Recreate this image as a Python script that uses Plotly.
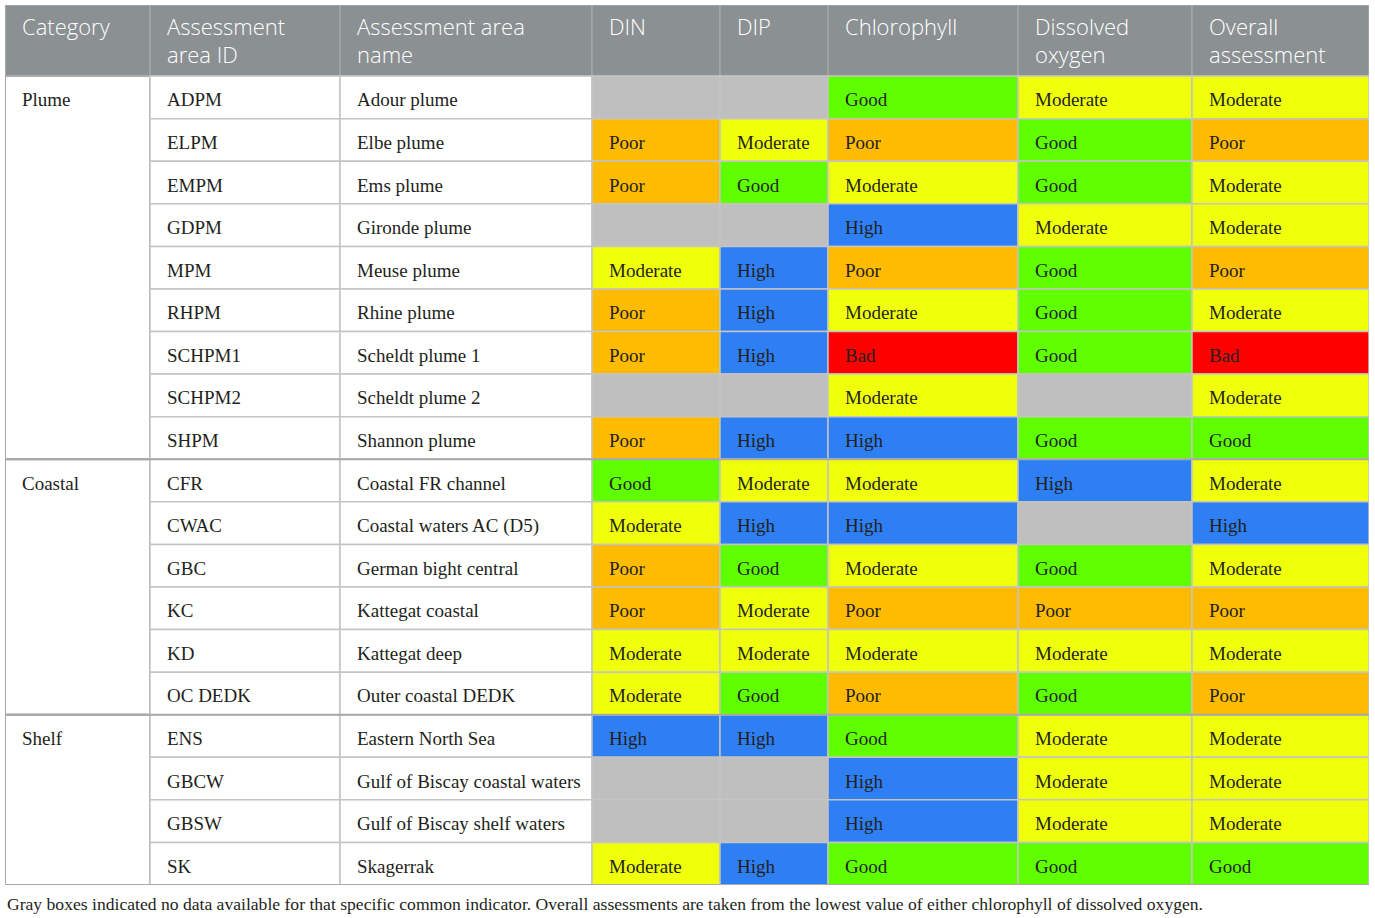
import plotly.graph_objects as go

# table data
headers = ["Category", "Assessment<br>area ID", "Assessment area<br>name", "DIN", "DIP",
           "Chlorophyll", "Dissolved<br>oxygen", "Overall<br>assessment"]
groups = ["Plume", "Coastal", "Shelf"]
group_sizes = [9, 6, 4]
area_ids = ["ADPM", "ELPM", "EMPM", "GDPM", "MPM", "RHPM", "SCHPM1", "SCHPM2", "SHPM",
            "CFR", "CWAC", "GBC", "KC", "KD", "OC DEDK",
            "ENS", "GBCW", "GBSW", "SK"]
area_names = ["Adour plume", "Elbe plume", "Ems plume", "Gironde plume", "Meuse plume",
              "Rhine plume", "Scheldt plume 1", "Scheldt plume 2", "Shannon plume",
              "Coastal FR channel", "Coastal waters AC (D5)", "German bight central",
              "Kattegat coastal", "Kattegat deep", "Outer coastal DEDK",
              "Eastern North Sea", "Gulf of Biscay coastal waters",
              "Gulf of Biscay shelf waters", "Skagerrak"]
din = ["", "Poor", "Poor", "", "Moderate", "Poor", "Poor", "", "Poor",
       "Good", "Moderate", "Poor", "Poor", "Moderate", "Moderate",
       "High", "", "", "Moderate"]
dip = ["", "Moderate", "Good", "", "High", "High", "High", "", "High",
       "Moderate", "High", "Good", "Moderate", "Moderate", "Good",
       "High", "", "", "High"]
chlorophyll = ["Good", "Poor", "Moderate", "High", "Poor", "Moderate", "Bad", "Moderate", "High",
               "Moderate", "High", "Moderate", "Poor", "Moderate", "Poor",
               "Good", "High", "High", "Good"]
dissolved_oxygen = ["Moderate", "Good", "Good", "Moderate", "Good", "Good", "Good", "", "Good",
                    "High", "", "Good", "Poor", "Moderate", "Good",
                    "Moderate", "Moderate", "Moderate", "Good"]
overall = ["Moderate", "Poor", "Moderate", "Moderate", "Poor", "Moderate", "Bad", "Moderate", "Good",
           "Moderate", "High", "Moderate", "Poor", "Moderate", "Poor",
           "Moderate", "Moderate", "Moderate", "Good"]
caption = ("Gray boxes indicated no data available for that specific common indicator. "
           "Overall assessments are taken from the lowest value of either chlorophyll of dissolved oxygen.")

# styling
status_colors = {"Good": "#5FFF00", "Moderate": "#F0FF0A", "Poor": "#FFBB00",
                 "High": "#2E7FF3", "Bad": "#FF0000", "": "#BFBFBF"}
col_widths = [145, 190, 252, 128, 108, 190, 174, 177]
header_h = 1.67          # in row units
pad = 17
border = "#C4C4C4"
text_col = "#231F20"
serif = "Liberation Serif"

edges = [0]
for w in col_widths:
    edges.append(edges[-1] + w)
n_rows = len(area_ids)

shapes = []


def cell(x0, x1, y0, y1, fill, line=border, lw=1.5):
    shapes.append(dict(type="rect", xref="x", yref="y", x0=x0, x1=x1, y0=y0, y1=y1,
                       fillcolor=fill, line=dict(color=line, width=lw), layer="below"))


# header
for c in range(len(headers)):
    cell(edges[c], edges[c + 1], -header_h, 0, "#8B9093", line="#A3A7A9")

# category cells (merged)
start = 0
group_mid = []
for g, size in zip(groups, group_sizes):
    cell(edges[0], edges[1], start, start + size, "white", line="#ABABAB", lw=2)
    group_mid.append(start + 0.6)
    start += size

indicator_cols = [din, dip, chlorophyll, dissolved_oxygen, overall]
for r in range(n_rows):
    cell(edges[1], edges[2], r, r + 1, "white")
    cell(edges[2], edges[3], r, r + 1, "white")
    for k, vals in enumerate(indicator_cols):
        cell(edges[3 + k], edges[4 + k], r, r + 1, status_colors[vals[r]])

# group separators across the whole table
start = 0
for size in group_sizes:
    start += size
    shapes.append(dict(type="line", xref="x", yref="y", x0=edges[0], x1=edges[-1], y0=start, y1=start,
                       line=dict(color="#A8A8A8", width=2), layer="below"))
shapes.append(dict(type="line", xref="x", yref="y", x0=edges[0], x1=edges[0], y0=-header_h, y1=n_rows,
                   line=dict(color="#A8A8A8", width=2), layer="below"))

fig = go.Figure()

# header text (top aligned, wrapped with <br>)
fig.add_trace(go.Scatter(
    x=[edges[c] + pad for c in range(len(headers))],
    y=[-header_h + 0.31] * len(headers),
    text=headers, mode="text", textposition="bottom right",
    textfont=dict(family="Open Sans", size=22, color="white", weight=300),
    hoverinfo="skip"))

# category text
fig.add_trace(go.Scatter(
    x=[edges[0] + pad] * len(groups), y=group_mid, text=groups,
    mode="text", textposition="middle right",
    textfont=dict(family=serif, size=19, color=text_col), hoverinfo="skip"))

# body text
xs, ys, ts = [], [], []
for r in range(n_rows):
    row_vals = [area_ids[r], area_names[r]] + [v[r] for v in indicator_cols]
    for k, t in enumerate(row_vals):
        if t:
            xs.append(edges[1 + k] + pad)
            ys.append(r + 0.6)
            ts.append(t)
fig.add_trace(go.Scatter(
    x=xs, y=ys, text=ts, mode="text", textposition="middle right",
    textfont=dict(family=serif, size=19, color=text_col), hoverinfo="skip"))

fig.update_layout(
    width=1375, height=918,
    margin=dict(l=5, r=6, t=5, b=33),
    paper_bgcolor="white", plot_bgcolor="white",
    showlegend=False,
    shapes=shapes,
    xaxis=dict(range=[0, edges[-1]], visible=False, fixedrange=True),
    yaxis=dict(range=[n_rows, -header_h], visible=False, fixedrange=True),
    annotations=[dict(text=caption, xref="paper", yref="paper", x=0, y=0, xanchor="left",
                      yanchor="top", yshift=-7, showarrow=False,
                      font=dict(family=serif, size=17.6, color=text_col))],
)

# drop the page's default body margin so the figure sits at the window corner
fig.write_html("out.html", config={"displayModeBar": False},
               post_script="document.body.style.margin = '0';")
